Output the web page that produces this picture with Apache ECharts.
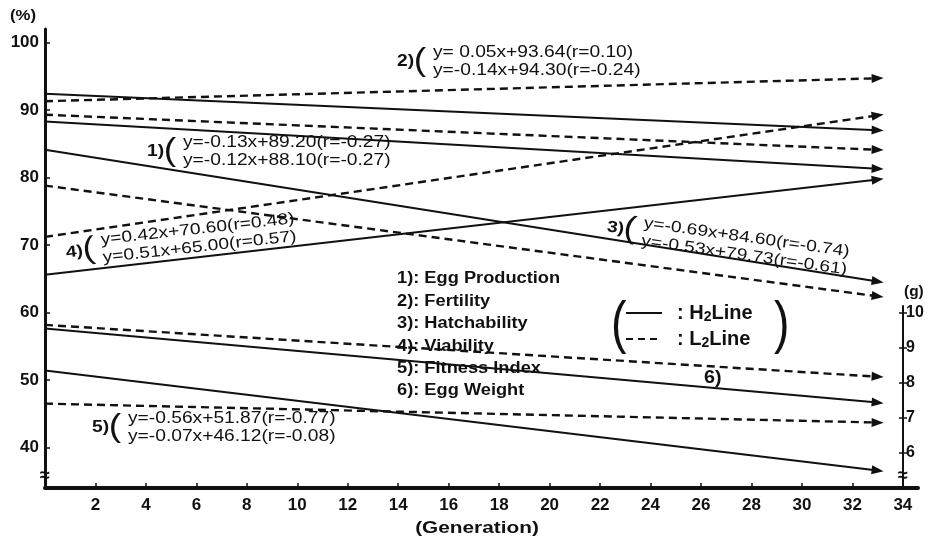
<!DOCTYPE html>
<html>
<head>
<meta charset="utf-8">
<script src="https://cdn.jsdelivr.net/npm/echarts@6/dist/echarts.min.js"></script>
<style>
  html, body { margin: 0; background: #fff; }
  #main { width: 934px; height: 542px; }
</style>
</head>
<body>
<div id="main"></div>
<script>
// generation at start and end of every regression line
var generations = [0, 33];

// percent traits (left axis), [value at gen 0, value at gen 33]
var eggProductionH = [88.3, 81.3];
var eggProductionL = [89.3, 84.1];
var fertilityH = [92.4, 87.0];
var fertilityL = [91.3, 94.7];
var hatchabilityH = [84.1, 64.6];
var hatchabilityL = [78.8, 62.4];
var viabilityH = [65.6, 79.7];
var viabilityL = [71.2, 89.2];
var fitnessH = [51.4, 36.6];
var fitnessL = [46.5, 43.7];

// egg weight in grams (right axis)
var eggWeightH = [9.56, 7.44];
var eggWeightL = [9.66, 8.18];

var xTicks = [2, 4, 6, 8, 10, 12, 14, 16, 18, 20, 22, 24, 26, 28, 30, 32, 34];
var pctTicks = [40, 50, 60, 70, 80, 90, 100];
var gTicks = [6, 7, 8, 9, 10];

var equations = {
  e1: ["y=-0.13x+89.20(r=-0.27)", "y=-0.12x+88.10(r=-0.27)"],
  e2: ["y= 0.05x+93.64(r=0.10)", "y=-0.14x+94.30(r=-0.24)"],
  e3: ["y=-0.69x+84.60(r=-0.74)", "y=-0.53x+79.73(r=-0.61)"],
  e4: ["y=0.42x+70.60(r=0.48)", "y=0.51x+65.00(r=0.57)"],
  e5: ["y=-0.56x+51.87(r=-0.77)", "y=-0.07x+46.12(r=-0.08)"]
};
var traitNames = ["Egg Production", "Fertility", "Hatchability", "Viability", "Fitness Index", "Egg Weight"];

var FONT = "'Liberation Sans', Arial, sans-serif";
var INK = "#111";

// percent axis 34..102, gram axis shares pixel scale: 5 g at bottom, 35px per g
var pctMin = 34, pctMax = 102;
var plotHeight = 459;
var gMin = 5, gMax = gMin + plotHeight / 35;

function lineSeries(name, vals, dashed, yIdx) {
  return {
    name: name,
    type: "line",
    yAxisIndex: yIdx || 0,
    symbol: "triangle",
    symbolSize: [9, 12],
    silent: true,
    lineStyle: { color: INK, width: dashed ? 2.4 : 2, type: dashed ? [8, 5] : "solid" },
    itemStyle: { color: INK },
    data: [
      { value: [generations[0], vals[0]], symbol: "none" },
      { value: [generations[1], vals[1]] }
    ]
  };
}

var series = [
  lineSeries("1H", eggProductionH, false),
  lineSeries("1L", eggProductionL, true),
  lineSeries("2H", fertilityH, false),
  lineSeries("2L", fertilityL, true),
  lineSeries("3H", hatchabilityH, false),
  lineSeries("3L", hatchabilityL, true),
  lineSeries("4H", viabilityH, false),
  lineSeries("4L", viabilityL, true),
  lineSeries("5H", fitnessH, false),
  lineSeries("5L", fitnessL, true),
  lineSeries("6H", eggWeightH, false, 1),
  lineSeries("6L", eggWeightL, true, 1)
];

function txt(x, y, s, opt) {
  opt = opt || {};
  return {
    type: "text", x: x, y: y, rotation: opt.rotation || 0, silent: true,
    style: {
      text: s, fill: INK, font: (opt.weight || "normal") + " " + (opt.size || 15) + "px " + FONT,
      align: opt.align || "left", verticalAlign: opt.va || "middle"
    }
  };
}

// wider lettering like the printed figure
function wide(x, y, children, sx, rotation) {
  return { type: "group", x: x, y: y, scaleX: sx, rotation: rotation || 0, children: children };
}

function equationBlock(x, y, num, lines, rotation) {
  return wide(x, y, [
    txt(0, 0, num + ")", { size: 16, weight: "bold" }),
    txt(14, -1, "(", { size: 31 }),
    txt(30, -9, lines[0], { size: 16 }),
    txt(30, 9, lines[1], { size: 16 })
  ], 1.2, rotation);
}

var graphics = [
  wide(10, 16, [txt(0, 0, "(%)", { size: 14, weight: "bold" })], 1.2),
  wide(904, 292, [txt(0, 0, "(g)", { size: 14, weight: "bold" })], 1.1),
  wide(477, 529, [txt(0, 0, "(Generation)", { size: 16, weight: "bold", align: "center" })], 1.3),
  equationBlock(397, 62, 2, equations.e2),
  equationBlock(147, 152, 1, equations.e1),
  equationBlock(607, 227, 3, equations.e3, -0.14),
  equationBlock(66, 253, 4, equations.e4, 0.11),
  equationBlock(92, 428, 5, equations.e5)
];

traitNames.forEach(function (n, i) {
  graphics.push(wide(397, 279 + i * 22.4, [txt(0, 0, (i + 1) + "): " + n, { size: 16, weight: "bold" })], 1.14));
});

// H2 / L2 key box
var keyRich = {
  a: { font: "bold 20px " + FONT, fill: INK },
  s: { font: "bold 14px " + FONT, fill: INK, padding: [9, 0, 0, 0] }
};
graphics.push(
  wide(611, 326, [txt(0, 0, "(", { size: 58 })], 0.8),
  wide(774, 326, [txt(0, 0, ")", { size: 58 })], 0.8),
  { type: "line", silent: true, shape: { x1: 626, y1: 313, x2: 662, y2: 313 }, style: { stroke: INK, lineWidth: 2 } },
  { type: "line", silent: true, shape: { x1: 626, y1: 339, x2: 662, y2: 339 }, style: { stroke: INK, lineWidth: 2, lineDash: [7, 5] } },
  { type: "text", x: 677, y: 313, silent: true, style: { text: "{a|: H}{s|2}{a|Line}", verticalAlign: "middle", rich: keyRich } },
  { type: "text", x: 677, y: 339, silent: true, style: { text: "{a|: L}{s|2}{a|Line}", verticalAlign: "middle", rich: keyRich } },
  wide(704, 378, [txt(0, 0, "6)", { size: 18, weight: "bold" })], 1.1)
);

var chart = echarts.init(document.getElementById("main"));

var option = {
  animation: false,
  backgroundColor: "#fff",
  grid: [
    { left: 45, right: 16, top: 29, bottom: 54 },
    { left: 903, width: 20, top: 306, bottom: 54 }
  ],
  xAxis: [
    {
      type: "value", gridIndex: 0, min: 0, max: 34.6,
      axisLine: { lineStyle: { color: INK, width: 4 } },
      axisTick: { inside: true, length: 5, lineStyle: { color: INK, width: 1.5 }, customValues: xTicks },
      axisLabel: { customValues: xTicks, color: INK, fontFamily: FONT, fontWeight: "bold", fontSize: 17, margin: 9 },
      splitLine: { show: false }
    },
    { type: "value", gridIndex: 1, min: 0, max: 1, show: false }
  ],
  yAxis: [
    {
      type: "value", gridIndex: 0, min: pctMin, max: pctMax,
      axisLine: { show: true, lineStyle: { color: INK, width: 3 } },
      axisTick: { show: true, inside: true, length: 5, lineStyle: { color: INK, width: 1.5 }, customValues: pctTicks },
      axisLabel: { customValues: pctTicks, color: INK, fontFamily: FONT, fontWeight: "bold", fontSize: 17, margin: 6 },
      splitLine: { show: false }
    },
    { type: "value", gridIndex: 0, min: gMin, max: gMax, show: false },
    {
      type: "value", gridIndex: 1, position: "left", min: gMin, max: 10.2,
      axisLine: { show: true, lineStyle: { color: INK, width: 2 } },
      axisTick: { show: true, inside: true, length: 4, lineStyle: { color: INK, width: 1.5 }, customValues: gTicks },
      axisLabel: { inside: true, customValues: gTicks, color: INK, fontFamily: FONT, fontWeight: "bold", fontSize: 16, margin: 3 },
      splitLine: { show: false }
    },
    {
      type: "value", gridIndex: 1, position: "left", min: gMin, max: 10.2,
      axisLine: { show: false },
      axisTick: { show: true, length: 4, lineStyle: { color: INK, width: 1.5 }, customValues: gTicks },
      axisLabel: { show: false },
      splitLine: { show: false }
    }
  ],
  series: series,
  graphic: graphics
};

chart.setOption(option);

// point each arrowhead along its line, and add axis break marks
var rotated = series.map(function (s, i) {
  var p0 = chart.convertToPixel({ seriesIndex: i }, s.data[0].value);
  var p1 = chart.convertToPixel({ seriesIndex: i }, s.data[1].value);
  var ang = Math.atan2(-(p1[1] - p0[1]), p1[0] - p0[0]) * 180 / Math.PI;
  return { data: [s.data[0], { value: s.data[1].value, symbolRotate: ang - 90 }] };
});
var brkL = chart.convertToPixel({ xAxisIndex: 0, yAxisIndex: 0 }, [0, 35.8]);
var brkR = chart.convertToPixel({ xAxisIndex: 1, yAxisIndex: 2 }, [0, 5.33]);
chart.setOption({
  series: rotated,
  graphic: graphics.concat([
    txt(brkL[0], brkL[1], "≈", { size: 18, weight: "bold", align: "center" }),
    txt(brkR[0], brkR[1], "≈", { size: 18, weight: "bold", align: "center" })
  ])
});
</script>
</body>
</html>
